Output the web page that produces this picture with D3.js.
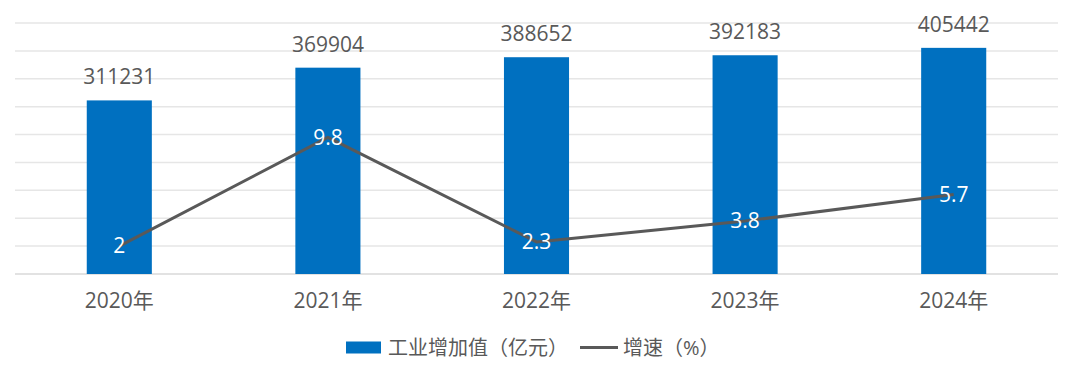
<!DOCTYPE html>
<html><head><meta charset="utf-8">
<script src="https://cdn.jsdelivr.net/npm/d3@7"></script>
<style>
html,body{margin:0;padding:0;background:#fff;}
svg{display:block;font-family:"Open Sans","Noto Sans CJK SC",sans-serif;}
</style></head>
<body>
<svg id="chart" width="1080" height="374"></svg>
<script>
const categories = ["2020年","2021年","2022年","2023年","2024年"];
const valueAdded = [311231, 369904, 388652, 392183, 405442];
const growth = [2, 9.8, 2.3, 3.8, 5.7];
const primaryTicks = [0,50000,100000,150000,200000,250000,300000,350000,400000,450000];
const seriesNames = ["工业增加值（亿元）", "增速（%）"];

const svg = d3.select("#chart");
const plotLeft = 15, plotRight = 1058, plotTop = 23, plotBottom = 274;

const x = d3.scaleBand().domain(categories).range([plotLeft, plotRight]).paddingInner(0.688).paddingOuter(0.344);
const y = d3.scaleLinear().domain([0, 450000]).range([plotBottom, plotTop]);
const y2 = d3.scaleLinear().domain([0, 18]).range([plotBottom, plotTop]);

// gridlines
svg.append("g").selectAll("line").data(primaryTicks).join("line")
  .attr("x1", plotLeft).attr("x2", plotRight)
  .attr("y1", d => y(d)).attr("y2", d => y(d))
  .attr("stroke", d => d === 0 ? "#d9d9d9" : "#e6e6e6")
  .attr("stroke-width", 1.5);

// bars
svg.append("g").selectAll("rect").data(valueAdded).join("rect")
  .attr("x", (d,i) => x(categories[i]))
  .attr("y", d => y(d))
  .attr("width", x.bandwidth())
  .attr("height", d => y(0) - y(d))
  .attr("fill", "#0070c0");

// bar labels
svg.append("g").selectAll("text").data(valueAdded).join("text")
  .attr("x", (d,i) => x(categories[i]) + x.bandwidth()/2)
  .attr("y", d => y(d) - 16)
  .attr("text-anchor", "middle")
  .attr("font-size", 21)
  .attr("fill", "#595959")
  .text(d => d);

// category axis labels
svg.append("g").selectAll("text").data(categories).join("text")
  .attr("x", d => x(d) + x.bandwidth()/2)
  .attr("y", 308)
  .attr("text-anchor", "middle")
  .attr("font-size", 21)
  .attr("fill", "#595959")
  .text(d => d);

// line
const line = d3.line()
  .x((d,i) => x(categories[i]) + x.bandwidth()/2)
  .y(d => y2(d));
svg.append("path").datum(growth)
  .attr("d", line)
  .attr("fill", "none")
  .attr("stroke", "#595959")
  .attr("stroke-width", 3)
  .attr("stroke-linejoin", "round");

// line labels
svg.append("g").selectAll("text").data(growth).join("text")
  .attr("x", (d,i) => x(categories[i]) + x.bandwidth()/2)
  .attr("y", d => y2(d))
  .attr("dy", "0.35em")
  .attr("text-anchor", "middle")
  .attr("font-size", 21)
  .attr("fill", "#ffffff")
  .text(d => d);

// legend
const lg = svg.append("g");
let lx = 346;
const ly = 347.5;
lg.append("rect").attr("x", lx).attr("y", ly - 6).attr("width", 35).attr("height", 12).attr("fill", "#0070c0");
const t1 = lg.append("text").attr("x", lx + 42).attr("y", ly).attr("dy", "0.35em")
  .attr("font-size", 20).attr("fill", "#595959").text(seriesNames[0]);
lx = lx + 42 + t1.node().getComputedTextLength() + 12;
lg.append("line").attr("x1", lx).attr("x2", lx + 38).attr("y1", ly).attr("y2", ly)
  .attr("stroke", "#595959").attr("stroke-width", 3);
lg.append("text").attr("x", lx + 43).attr("y", ly).attr("dy", "0.35em")
  .attr("font-size", 20).attr("fill", "#595959").text(seriesNames[1]);
</script>
</body></html>
